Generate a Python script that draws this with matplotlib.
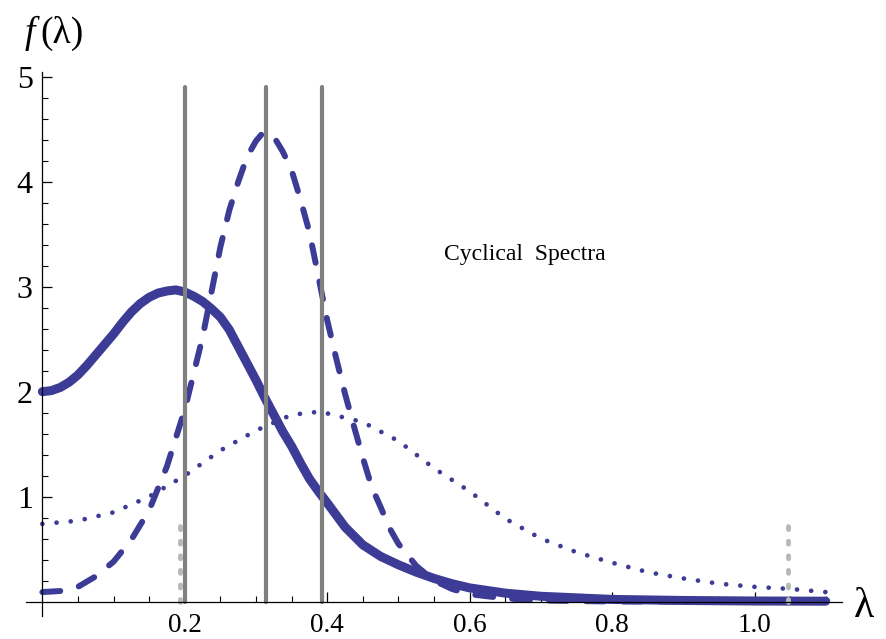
import numpy as np
import matplotlib.pyplot as plt

# values
lam_solid = [0, 0.0125, 0.025, 0.0375, 0.05, 0.0625, 0.075, 0.0875, 0.1, 0.1125, 0.125, 0.1375,
             0.15, 0.1625, 0.175, 0.1875, 0.2, 0.2125, 0.225, 0.2375, 0.25, 0.2625, 0.275, 0.2875,
             0.3, 0.3125, 0.325, 0.3375, 0.35, 0.3625, 0.375, 0.3875, 0.4, 0.425, 0.45, 0.475,
             0.5, 0.525, 0.55, 0.575, 0.6, 0.65, 0.7, 0.75, 0.8, 0.9, 1.0, 1.1]
f_solid = [2.0, 2.01, 2.04, 2.09, 2.16, 2.25, 2.35, 2.45, 2.55, 2.66, 2.76, 2.84,
           2.9, 2.94, 2.96, 2.97, 2.95, 2.91, 2.86, 2.79, 2.71, 2.59, 2.43, 2.27,
           2.11, 1.94, 1.78, 1.62, 1.48, 1.32, 1.17, 1.05, 0.94, 0.71, 0.54, 0.43,
           0.35, 0.28, 0.22, 0.17, 0.13, 0.08, 0.05, 0.035, 0.02, 0.01, 0.005, 0.003]

lam_dash = [0, 0.025, 0.05, 0.075, 0.1, 0.125, 0.15, 0.175, 0.2, 0.225, 0.25, 0.2625, 0.275,
            0.2875, 0.3, 0.3075, 0.315, 0.32, 0.325, 0.3375, 0.35, 0.3625, 0.375, 0.3875, 0.4,
            0.4125, 0.425, 0.4375, 0.45, 0.4625, 0.475, 0.4875, 0.5, 0.525, 0.55, 0.575, 0.6,
            0.65, 0.7, 0.8, 1.1]
f_dash = [0.09, 0.10, 0.14, 0.24, 0.38, 0.59, 0.87, 1.29, 1.83, 2.52, 3.38, 3.73, 4.0,
          4.24, 4.39, 4.45, 4.47, 4.46, 4.43, 4.29, 4.11, 3.83, 3.52, 3.10, 2.68,
          2.32, 1.98, 1.67, 1.37, 1.09, 0.90, 0.70, 0.55, 0.34, 0.2, 0.12, 0.07,
          0.03, 0.01, 0.0, 0.0]

lam_dot = [0, 0.05, 0.1, 0.15, 0.2, 0.25, 0.3, 0.35, 0.39, 0.45, 0.5, 0.55, 0.6, 0.65,
           0.7, 0.75, 0.8, 0.85, 0.9, 0.95, 1.0, 1.05, 1.1]
f_dot = [0.74, 0.77, 0.85, 1.0, 1.2, 1.44, 1.63, 1.78, 1.81, 1.71, 1.53, 1.27, 1.05, 0.79,
         0.60, 0.47, 0.37, 0.28, 0.22, 0.17, 0.14, 0.12, 0.09]

cycle_lines = [0.2, np.pi / 10, np.pi / 8]   # solid grey markers
band_lines = [0.193, np.pi / 3]              # dotted grey markers
cycle_top = 4.9
band_top = 0.8

blue = '#3c3c96'
plt.rcParams['font.family'] = ['Liberation Serif', 'DejaVu Serif']

fig = plt.figure(figsize=(8.87, 6.39), dpi=100)
ax = fig.add_axes([0.0297, 0.036, 0.9197, 0.8518])

ax.plot(lam_dot, f_dot, color=blue, lw=3.4, ls=(0, (0.01, 3.0)), dash_capstyle='round')
ax.plot(lam_dash, f_dash, color=blue, lw=4.3, ls=(0, (3, 3.2)), dash_capstyle='round',
        dash_joinstyle='round')
ax.plot(lam_solid, f_solid, color=blue, lw=6.5, solid_capstyle='round', solid_joinstyle='round')

for x in cycle_lines:
    ax.plot([x, x], [0, cycle_top], color='#808080', lw=3, solid_capstyle='round')
for x in band_lines:
    ax.plot([x, x], [0, band_top], color='#b8b8b8', lw=3.5, ls=(0, (0.6, 2.4)),
            dash_capstyle='round', clip_on=False)

ax.text(0.678, 3.31, 'Cyclical  Spectra', fontsize=17, ha='center', va='center')

ax.set_xlim(-0.0225, 1.123)
ax.set_ylim(-0.138, 5.05)
ax.spines['left'].set_position(('data', 0))
ax.spines['bottom'].set_position(('data', 0))
for s in ['top', 'right']:
    ax.spines[s].set_visible(False)
for s in ['left', 'bottom']:
    ax.spines[s].set_linewidth(0.9)

ax.set_xticks([0.2, 0.4, 0.6, 0.8, 1.0])
ax.set_xticklabels(['0.2', '0.4', '0.6', '0.8', '1.0'])
ax.set_xticks(np.arange(0.05, 1.11, 0.05), minor=True)
ax.set_yticks([1, 2, 3, 4, 5])
ax.set_yticks(np.arange(0.2, 5.01, 0.2), minor=True)
ax.tick_params(axis='x', which='major', direction='in', length=7, width=0.9, pad=8, labelsize=19.5)
ax.tick_params(axis='x', which='minor', direction='in', length=4.5, width=0.8)
ax.tick_params(axis='y', which='major', direction='in', length=7, width=0.9, pad=7, labelsize=23)
ax.tick_params(axis='y', which='minor', direction='in', length=4.5, width=0.8)

fig.text(0.028, 0.948, 'f', fontsize=27, ha='left', va='center', fontstyle='italic')
fig.text(0.046, 0.948, '(λ)', fontsize=27, ha='left', va='center')
fig.text(0.963, 0.05, 'λ', fontsize=30, ha='left', va='center')

fig.savefig('out.png', dpi=100)
